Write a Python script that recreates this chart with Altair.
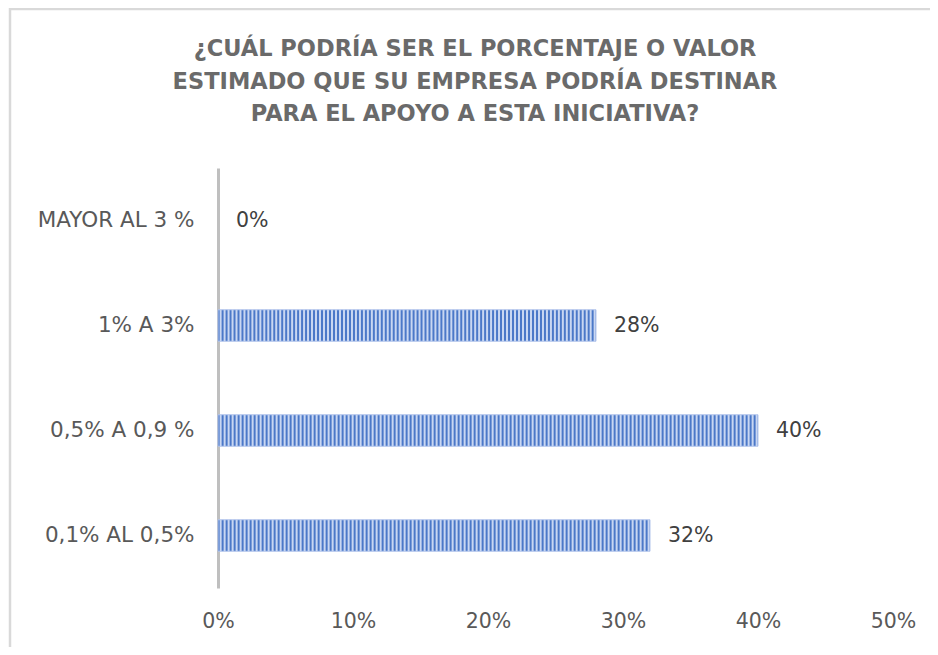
import altair as alt
import pandas as pd

categories = ["MAYOR AL 3 %", "1% A 3%", "0,5% A 0,9 %", "0,1% AL 0,5%"]
values = [0, 28, 40, 32]
x_ticks = [0, 10, 20, 30, 40, 50]
title_lines = [
    "¿CUÁL PODRÍA SER EL PORCENTAJE O VALOR",
    "ESTIMADO QUE SU EMPRESA PODRÍA DESTINAR",
    "PARA EL APOYO A ESTA INICIATIVA?",
]

df = pd.DataFrame({"cat": categories, "value": values})

W, H = 675, 420
FONT = "DejaVu Sans"
GRAY = "#595959"

x_scale = alt.Scale(domain=[0, 50], nice=False)
y_scale = alt.Scale(domain=categories, paddingInner=0.7, paddingOuter=0.35)

base = alt.Chart(df)


def stripes(length_px, period=4.0):
    n = max(1, int(round(length_px / period)))
    dark, light = "#4B78C8", "#C9D7F2"
    stops = []
    for k in range(n):
        stops.append(alt.GradientStop(color=dark, offset=k / n))
        stops.append(alt.GradientStop(color=dark, offset=(k + 0.3) / n))
        stops.append(alt.GradientStop(color=light, offset=(k + 0.5) / n))
        stops.append(alt.GradientStop(color=light, offset=(k + 0.8) / n))
    stops.append(alt.GradientStop(color=dark, offset=1.0))
    return alt.Gradient(gradient="linear", stops=stops, x1=0, x2=1, y1=0, y2=0)


layers = []

# chart card border (decorative frame, only its top and left edges are in view)
frame_top = alt.Chart(pd.DataFrame({"a": [0]})).mark_rule(
    stroke="#D9D9D9", strokeWidth=2.5
).encode(x=alt.value(-209), x2=alt.value(712), y=alt.value(-159))
frame_left = alt.Chart(pd.DataFrame({"a": [0]})).mark_rule(
    stroke="#D9D9D9", strokeWidth=2.5
).encode(x=alt.value(-208), y=alt.value(-160), y2=alt.value(480))
layers += [frame_top, frame_left]

axes = base.mark_bar(opacity=0).encode(
    x=alt.X(
        "value:Q",
        scale=x_scale,
        axis=alt.Axis(
            values=x_ticks,
            labelExpr="datum.value + '%'",
            title=None,
            grid=False,
            ticks=False,
            domain=False,
            labelFlush=False,
            labelFontSize=20.5,
            labelColor=GRAY,
            labelFont=FONT,
            labelPadding=23,
        ),
    ),
    y=alt.Y(
        "cat:N",
        sort=categories,
        scale=y_scale,
        axis=alt.Axis(
            title=None,
            ticks=False,
            domain=True,
            domainColor="#BFBFBF",
            domainWidth=3,
            labelFontSize=21.5,
            labelColor=GRAY,
            labelFont=FONT,
            labelPadding=24,
            labelLimit=400,
        ),
    ),
)
layers.append(axes)

for c, v in zip(categories, values):
    if v <= 0:
        continue
    length = v / 50 * W
    bar = base.transform_filter(alt.datum.cat == c).mark_bar(
        color=stripes(length), stroke="#B3C5EC", strokeWidth=1
    ).encode(
        x=alt.X("value:Q", scale=x_scale),
        y=alt.Y("cat:N", sort=categories, scale=y_scale),
    )
    layers.append(bar)

labels = base.transform_calculate(label="datum.value + '%'").mark_text(
    align="left", baseline="middle", dx=18, fontSize=20.5, font=FONT, color="#404040"
).encode(
    x=alt.X("value:Q", scale=x_scale),
    y=alt.Y("cat:N", sort=categories, scale=y_scale),
    text="label:N",
)
layers.append(labels)

# chart title drawn as a multi-line text
title = alt.Chart(pd.DataFrame({"a": [0]})).mark_text(
    align="center",
    baseline="middle",
    lineBreak="\n",
    lineHeight=32.5,
    fontSize=22.5,
    font=FONT,
    fontWeight="bold",
    color="#6A6A6A",
).encode(
    x=alt.value(257),
    y=alt.value(-119),
    text=alt.value("\n".join(title_lines)),
)
layers.append(title)

chart = alt.layer(*layers).properties(
    width=W,
    height=H,
    autosize=alt.AutoSizeParams(type="none"),
    padding={"left": 210, "top": 160, "right": 37, "bottom": 59},
).configure(background="white").configure_view(stroke=None)

chart.save("out.html", embed_options={"renderer": "svg", "actions": False})
